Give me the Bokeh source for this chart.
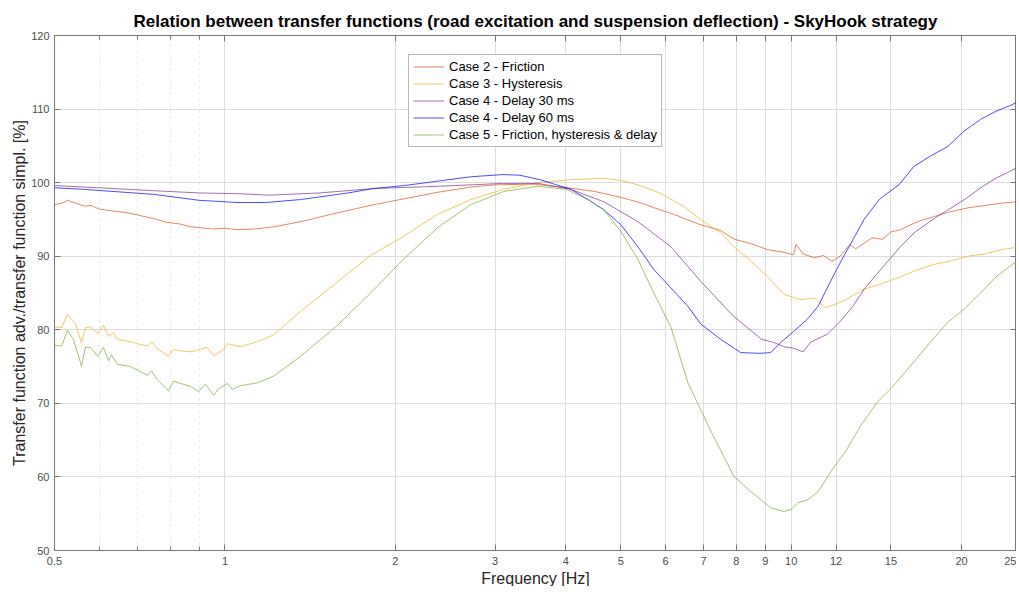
from bokeh.plotting import figure
from bokeh.models import (FixedTicker, LinearAxis, LogAxis, Range1d, Title, Spacer,
                          CustomJSTickFormatter)
from bokeh.layouts import row, column
from bokeh.embed import file_html
from bokeh.resources import INLINE

TITLE = "Relation between transfer functions (road excitation and suspension deflection) - SkyHook strategy"
X_LABEL = "Frequency [Hz]"
Y_LABEL = "Transfer function adv./transfer function simpl. [%]"

x_ticks = [0.5, 1, 2, 3, 4, 5, 6, 7, 8, 9, 10, 12, 15, 20, 25]
x_minor = [0.6, 0.7, 0.8, 0.9]
y_ticks = [50, 60, 70, 80, 90, 100, 110, 120]

labels = ["Case 2 - Friction", "Case 3 - Hysteresis", "Case 4 - Delay 30 ms",
          "Case 4 - Delay 60 ms", "Case 5 - Friction, hysteresis & delay"]

f_case2 = [0.5, 0.52, 0.527, 0.545, 0.565, 0.58, 0.6, 0.613, 0.64, 0.66, 0.693, 0.72,
           0.75, 0.79, 0.83, 0.87, 0.9, 0.95, 1.0, 1.05, 1.13, 1.22, 1.3, 1.38, 1.58,
           1.83, 2.07, 2.38, 2.72, 3.0, 3.5, 4.04, 4.5, 5.0, 5.4, 5.72, 6.2, 6.9, 7.5,
           7.94, 8.5, 9.08, 9.6, 10.1, 10.2, 10.5, 11.0, 11.4, 11.8, 12.2, 12.7, 13.0,
           13.9, 14.5, 15.0, 15.6, 16.4, 17.0, 17.9, 19.0, 20.6, 22.0, 23.5, 25.0]
v_case2 = [97.0, 97.3, 97.6, 97.2, 96.8, 96.9, 96.4, 96.3, 96.1, 96.0, 95.7, 95.4,
           95.1, 94.6, 94.4, 94.0, 93.9, 93.7, 93.8, 93.6, 93.7, 94.0, 94.4, 94.8, 95.9,
           97.0, 97.8, 98.7, 99.4, 99.7, 99.8, 99.3, 98.8, 98.0, 97.3, 96.6, 95.7, 94.3,
           93.5, 92.3, 91.7, 90.9, 90.6, 90.2, 91.6, 90.3, 89.8, 90.1, 89.3, 90.0, 91.6,
           91.0, 92.5, 92.3, 93.3, 93.6, 94.4, 94.9, 95.4, 96.0, 96.6, 96.9, 97.2, 97.4]

f_case3 = [0.5, 0.515, 0.527, 0.545, 0.558, 0.567, 0.579, 0.596, 0.61, 0.623, 0.636,
           0.646, 0.681, 0.709, 0.73, 0.742, 0.76, 0.795, 0.811, 0.84, 0.87, 0.93, 0.955,
           0.994, 1.01, 1.066, 1.142, 1.219, 1.36, 1.58, 1.808, 2.068, 2.375, 2.717,
           3.106, 3.567, 4.08, 4.667, 5.0, 5.36, 5.86, 6.45, 6.92, 7.5, 7.92, 8.5, 9.09,
           9.72, 10.4, 11.0, 11.5, 12.0, 12.5, 13.45, 14.5, 15.6, 16.5, 17.9, 19.0, 20.5,
           22.0, 23.5, 25.0]
v_case3 = [80.4, 80.3, 82.1, 80.8, 78.2, 80.3, 80.4, 79.5, 80.6, 79.1, 79.6, 78.7,
           78.4, 78.0, 77.8, 78.4, 77.4, 76.4, 77.3, 77.1, 77.0, 77.6, 76.5, 77.3, 78.1,
           77.7, 78.4, 79.3, 82.5, 86.5, 90.1, 92.7, 95.7, 97.7, 99.1, 100.0, 100.4,
           100.6, 100.3, 99.7, 98.6, 96.8, 95.0, 93.2, 91.3, 89.3, 87.2, 84.8, 84.1,
           84.3, 83.0, 83.5, 84.1, 85.5, 86.3, 87.2, 88.0, 88.9, 89.3, 90.0, 90.3, 90.9,
           91.2]

f_case4a = [0.5, 0.6, 0.75, 0.9, 1.05, 1.2, 1.47, 1.83, 2.375, 3.1, 3.57, 4.08, 4.67,
            5.36, 6.13, 6.92, 7.92, 8.87, 9.3, 9.72, 10.1, 10.5, 10.82, 11.58, 12.16,
            12.8, 13.45, 14.5, 15.6, 16.5, 17.5, 18.2, 19.4, 20.5, 21.8, 23.0, 24.0, 25.0]
v_case4a = [99.6, 99.3, 98.9, 98.6, 98.5, 98.3, 98.6, 99.2, 99.5, 99.9, 99.9, 99.1,
            97.4, 94.7, 91.3, 86.6, 81.8, 78.7, 78.3, 77.7, 77.5, 77.0, 78.3, 79.4,
            81.0, 83.0, 85.5, 88.5, 91.3, 93.2, 94.6, 95.5, 96.8, 98.0, 99.5, 100.6,
            101.3, 102.0]

f_case4b = [0.5, 0.56, 0.75, 0.9, 1.05, 1.18, 1.36, 1.65, 1.83, 2.07, 2.375, 2.717,
            3.106, 3.32, 3.6, 4.08, 4.38, 4.67, 5.0, 5.36, 5.72, 6.13, 6.57, 6.92, 7.51,
            8.14, 8.79, 9.2, 9.59, 10.11, 10.7, 11.16, 11.7, 12.3, 12.66, 13.45, 14.34,
            15.5, 16.47, 17.6, 18.9, 20.2, 21.6, 23.0, 24.4, 25.0]
v_case4b = [99.3, 99.1, 98.4, 97.6, 97.3, 97.3, 97.7, 98.6, 99.2, 99.6, 100.2, 100.8,
            101.1, 101.0, 100.4, 99.1, 97.7, 96.3, 94.3, 91.3, 88.2, 85.7, 83.2, 80.8,
            78.7, 76.9, 76.8, 76.9, 78.3, 79.8, 81.5, 83.2, 86.4, 89.6, 91.3, 95.0, 97.8,
            99.7, 102.2, 103.6, 104.9, 107.0, 108.6, 109.7, 110.5, 110.9]

f_case5 = [0.5, 0.515, 0.527, 0.54, 0.558, 0.567, 0.579, 0.596, 0.61, 0.623, 0.63,
           0.646, 0.681, 0.709, 0.73, 0.742, 0.76, 0.795, 0.811, 0.87, 0.898, 0.924,
           0.955, 0.975, 1.011, 1.03, 1.066, 1.142, 1.219, 1.36, 1.58, 1.808, 2.068,
           2.375, 2.717, 3.106, 3.567, 4.0, 4.38, 4.667, 5.0, 5.36, 5.72, 6.13, 6.57,
           7.24, 7.92, 8.49, 9.2, 9.72, 10.0, 10.28, 10.7, 11.16, 11.82, 12.51, 13.25,
           14.17, 15.0, 16.0, 17.6, 18.9, 20.2, 21.6, 23.0, 25.0]
v_case5 = [77.9, 77.8, 79.9, 78.7, 75.1, 77.6, 77.6, 76.4, 77.6, 75.8, 76.6, 75.3,
           75.0, 74.3, 73.8, 74.4, 73.2, 71.7, 73.0, 72.3, 71.6, 72.6, 71.1, 72.0, 72.7,
           71.9, 72.4, 72.8, 73.7, 76.4, 80.6, 85.0, 89.6, 93.9, 97.0, 98.8, 99.5, 99.1,
           97.7, 96.3, 93.4, 89.6, 85.0, 80.4, 72.8, 66.0, 60.1, 58.0, 55.8, 55.3, 55.6,
           56.5, 56.9, 58.0, 61.0, 63.6, 66.9, 70.1, 72.0, 74.5, 78.3, 81.0, 82.8, 85.0,
           87.2, 89.3]

colors = ["#D95319", "#EDB120", "#7E2F8E", "#0000FF", "#77AC30"]
series = [(f_case2, v_case2), (f_case3, v_case3), (f_case4a, v_case4a),
          (f_case4b, v_case4b), (f_case5, v_case5)]

FONT = "Liberation Sans"

p = figure(frame_width=962, frame_height=515, x_axis_type="log",
           x_range=Range1d(0.5, 25), y_range=Range1d(50, 120),
           output_backend="svg", toolbar_location=None,
           min_border_left=0, min_border_right=0, min_border_top=0,
           min_border_bottom=0)

p.title.text = TITLE
p.title.align = "center"
p.title.text_font = FONT
p.title.text_font_size = "17px"
p.title.text_font_style = "bold"
p.title.text_color = "#000000"
p.title.offset = 0
p.title.standoff = 9

for (f, v), c, lab in zip(series, colors, labels):
    p.line(f, v, line_color=c, line_width=1, line_alpha=0.7, legend_label=lab)

xt = FixedTicker(ticks=x_ticks, minor_ticks=x_minor)
yt = FixedTicker(ticks=y_ticks, minor_ticks=[])
fmt = CustomJSTickFormatter(code="return String(Math.round(tick*10)/10);")
blank = CustomJSTickFormatter(code="return '';")

for ax in p.xaxis:
    ax.ticker = xt
    ax.formatter = fmt
for ax in p.yaxis:
    ax.ticker = yt

def style_axis(ax):
    ax.axis_line_color = "#777777"
    ax.major_tick_line_color = "#777777"
    ax.minor_tick_line_color = "#777777"
    ax.major_tick_in = 6
    ax.major_tick_out = 0
    ax.minor_tick_in = 4
    ax.minor_tick_out = 0
    ax.major_label_text_font = FONT
    ax.major_label_text_font_size = "11px"
    ax.major_label_text_color = "#4D4D4D"
    ax.axis_label_text_font = FONT
    ax.axis_label_text_font_size = "16px"
    ax.axis_label_text_font_style = "normal"
    ax.axis_label_text_color = "#262626"

style_axis(p.xaxis[0])
style_axis(p.yaxis[0])
p.xaxis[0].major_label_standoff = 6
p.xaxis[0].axis_label = None
p.yaxis[0].axis_label = Y_LABEL
p.yaxis[0].major_label_standoff = 5
p.yaxis[0].axis_label_standoff = 0

top = LogAxis(ticker=xt, formatter=blank)
right = LinearAxis(ticker=yt, formatter=blank)
for ax in (top, right):
    style_axis(ax)
    ax.major_label_standoff = 0
    ax.axis_label = None
p.add_layout(top, "above")
p.add_layout(right, "right")

xtitle = Title(text=X_LABEL, align="center", text_font=FONT, text_font_size="16px",
               text_font_style="normal", text_color="#262626", standoff=0)
p.add_layout(xtitle, "below")

p.xgrid.ticker = xt
p.ygrid.ticker = yt
p.xgrid.grid_line_color = "#DDDDDD"
p.ygrid.grid_line_color = "#DDDDDD"
p.xgrid.minor_grid_line_color = "#E2E2E2"
p.xgrid.minor_grid_line_dash = "dotted"
p.outline_line_color = "#777777"

lg = p.legend[0]
lg.location = (354, 403)
lg.glyph_width = 31
lg.glyph_height = 15
lg.label_height = 15
lg.label_text_font = FONT
lg.label_text_font_size = "13px"
lg.label_text_color = "#000000"
lg.label_standoff = 5
lg.spacing = 2
lg.padding = 4
lg.margin = 0
lg.border_line_color = "#707070"
lg.border_line_width = 1
lg.background_fill_alpha = 1

layout = column(Spacer(height=5), row(Spacer(width=8), p))

open("out.html", "w").write(file_html(layout, INLINE))
